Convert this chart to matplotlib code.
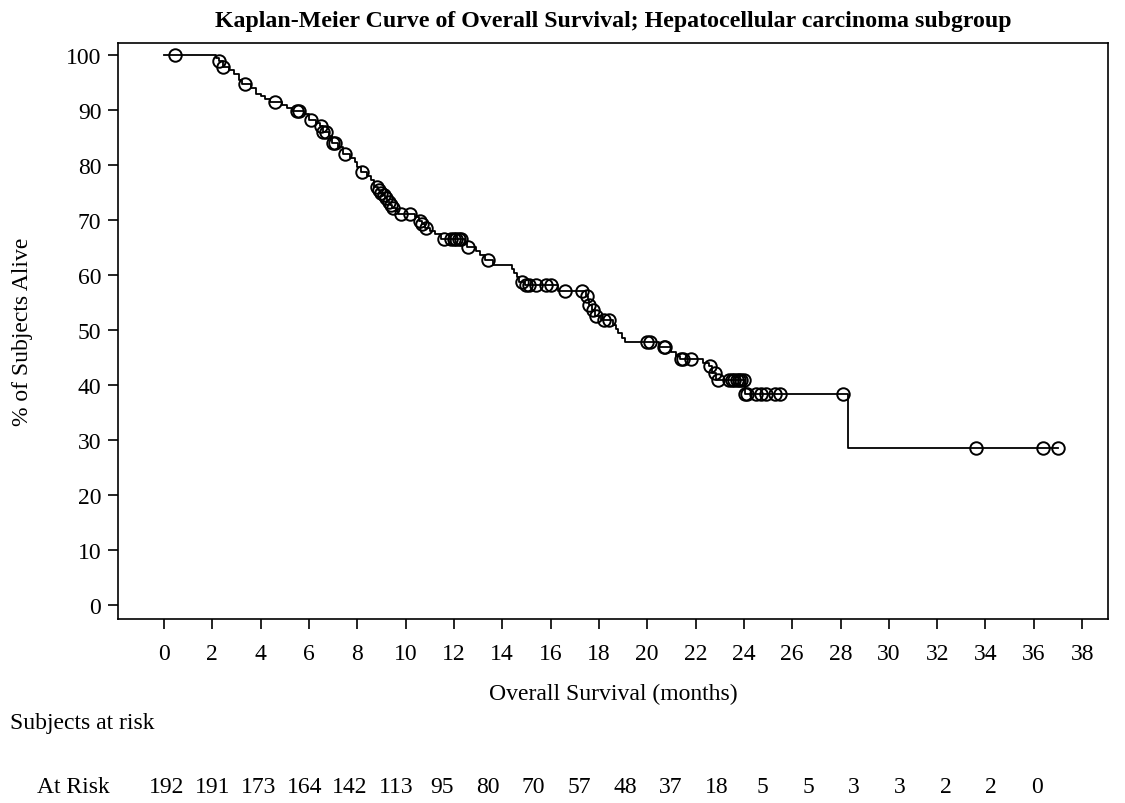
import numpy as np
import matplotlib
matplotlib.use("Agg")
import matplotlib.pyplot as plt

plt.rcParams["font.family"] = ["Liberation Serif", "DejaVu Serif"]

# Event times (months) and survival (%) just after each drop
event_times = [2.15, 2.3, 2.45, 2.7, 2.9, 3.1, 3.25, 3.6, 3.8, 4.0, 4.2, 4.4,
               4.9, 5.1, 5.3, 5.8, 6.0, 6.3, 6.45, 6.6, 6.85, 6.95, 7.2, 7.4,
               7.7, 7.9, 8.0, 8.15, 8.4, 8.55, 8.7, 8.85, 8.95, 9.05, 9.15,
               9.25, 9.35, 9.45, 9.6, 9.7, 10.4, 10.55, 10.7, 10.8, 11.0, 11.2,
               11.45, 12.45, 12.55, 12.9, 13.1, 13.3, 13.6, 14.4, 14.5, 14.6,
               14.7, 14.95, 16.3, 17.45, 17.55, 17.6, 17.7, 17.85, 18.1, 18.6,
               18.7, 18.8, 18.95, 19.1, 20.5, 21.0, 21.2, 21.35, 22.3, 22.55,
               22.7, 22.85, 24.05, 28.3]
event_surv = [99.5, 99.0, 97.8, 97.2, 96.6, 95.5, 94.7, 94.1, 93.0, 92.5, 92.0,
              91.5, 90.9, 90.4, 89.8, 89.2, 88.2, 87.6, 87.1, 86.0, 85.3, 84.0,
              83.3, 82.0, 81.3, 80.5, 79.6, 78.7, 78.0, 77.2, 76.0, 75.5, 75.0,
              74.5, 74.0, 73.3, 72.7, 72.2, 71.7, 71.1, 70.5, 69.8, 69.2, 68.5,
              68.0, 67.4, 66.5, 65.8, 65.1, 64.4, 63.6, 62.7, 61.8, 61.1, 60.4,
              59.6, 58.8, 58.2, 57.1, 56.2, 55.4, 54.6, 53.6, 52.6, 51.8, 51.0,
              50.2, 49.4, 48.6, 47.8, 46.9, 46.0, 45.3, 44.7, 44.0, 43.4, 42.2,
              40.9, 38.4, 28.6]

# Censored observation times (months)
censor_times = [0.45, 2.3, 2.45, 3.35, 4.6, 5.5, 5.6, 6.1, 6.5, 6.6, 6.7, 7.0,
                7.1, 7.5, 8.2, 8.8, 8.9, 9.0, 9.1, 9.2, 9.3, 9.4, 9.5, 9.8,
                10.2, 10.6, 10.7, 10.85, 11.6, 11.9, 12.0, 12.1, 12.2, 12.3,
                12.6, 13.4, 14.8, 15.0, 15.1, 15.4, 15.8, 16.0, 16.6, 17.3,
                17.5, 17.6, 17.75, 17.9, 18.2, 18.4, 20.0, 20.1, 20.7, 20.75,
                21.4, 21.5, 21.8, 22.6, 22.8, 22.95, 23.4, 23.5, 23.6, 23.7,
                23.8, 23.9, 24.0, 24.05, 24.15, 24.5, 24.7, 24.9, 25.3, 25.5,
                28.1, 33.6, 36.4, 37.0]

risk_labels = ["192", "191", "173", "164", "142", "113", "95", "80", "70", "57",
               "48", "37", "18", "5", "5", "3", "3", "2", "2", "0"]

# build step curve
t = np.array([0.0] + event_times + [max(censor_times)])
s = np.array([100.0] + event_surv + [event_surv[-1]])
ev_t = np.array([0.0] + event_times)
ev_s = np.array([100.0] + event_surv)
cens_t = np.array(censor_times)
cens_s = ev_s[np.searchsorted(ev_t, cens_t, side="right") - 1]

fs = 17
fig = plt.figure(figsize=(11.25, 8.04), dpi=100)
ax = fig.add_axes([118 / 1125, 1 - 620 / 804, 990 / 1125, 576 / 804])

ax.step(t, s, where="post", color="black", lw=1.3)
ax.plot(cens_t, cens_s, "o", mfc="none", mec="black", ms=9, mew=1.4)

ax.set_xlim(-1.9, 39.07)
ax.set_ylim(-2.55, 102.2)
ax.set_xticks(np.arange(0, 39, 2))
ax.set_yticks(np.arange(0, 101, 10))
ax.tick_params(direction="out", length=7, width=1.2, labelsize=fs, pad=5)
ax.tick_params(axis="x", pad=10)
for sp in ax.spines.values():
    sp.set_linewidth(1.2)

ax.set_title("Kaplan-Meier Curve of Overall Survival; Hepatocellular carcinoma subgroup",
             fontsize=17.2, fontweight="bold", pad=12)
ax.set_xlabel("Overall Survival (months)", fontsize=fs, labelpad=14)
ax.set_ylabel("% of Subjects Alive", fontsize=fs, labelpad=24)

fig.text(10 / 1125, 1 - 724 / 804, "Subjects at risk", fontsize=fs,
         ha="left", va="center")
fig.text(37 / 1125, 1 - 788 / 804, "At Risk", fontsize=fs,
         ha="left", va="center")
xs = np.linspace(167, 1037, len(risk_labels))
for x, lab in zip(xs, risk_labels):
    fig.text(x / 1125, 1 - 788 / 804, lab, fontsize=fs, ha="center", va="center")

fig.savefig("out.png", dpi=100)
